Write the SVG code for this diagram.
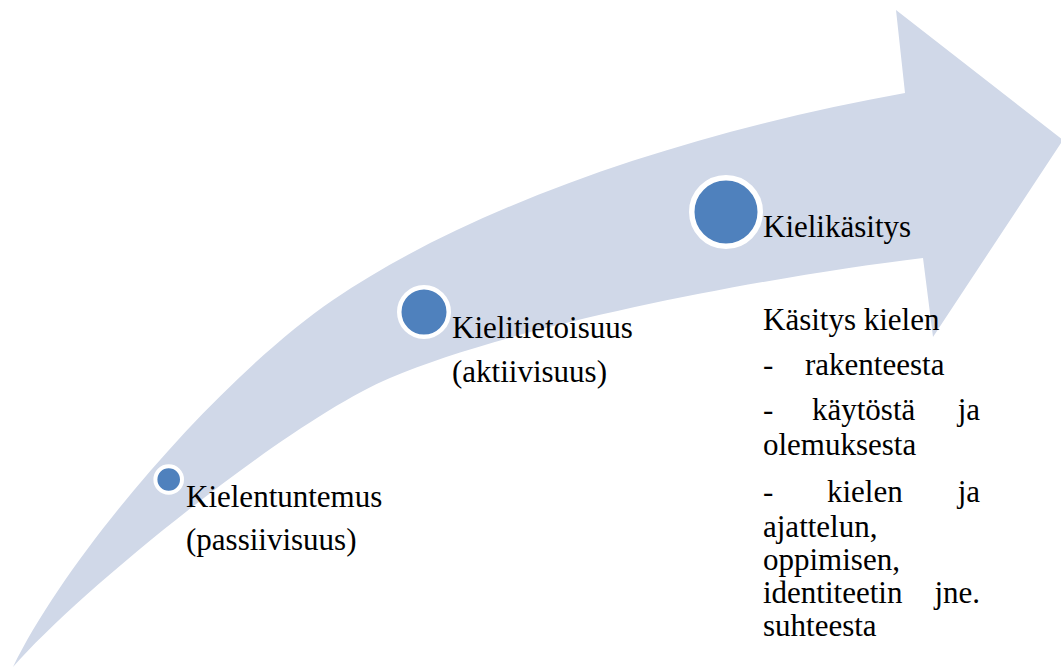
<svg xmlns="http://www.w3.org/2000/svg" width="1061" height="668" viewBox="0 0 1061 668">
<style>
.dot{fill:#4F81BD;stroke:#fff}
</style>
<rect width="1061" height="668" fill="#fff"/>
<g id="arrow">
<path d="M13,667 C70,550 223,375 333,300 C480,200 700,130 905,93 L896,10 L1063,140 L933,337 L923,258 C773,276 520,323 390,378 C290,420 80,590 13,667 Z" fill="#D0D8E8"/>
</g>
<g font-size="31" fill="#000">
<g id="node1">
<circle class="dot" cx="168.7" cy="479.5" r="13.3" stroke-width="4"/>
<text font-family="Liberation Serif, DejaVu Serif, serif" x="186" y="507">Kielentuntemus</text>
<text font-family="Liberation Serif, DejaVu Serif, serif" x="186" y="550">(passiivisuus)</text>
</g>
<g id="node2">
<circle class="dot" cx="424" cy="312" r="24.75" stroke-width="4.5"/>
<text font-family="Liberation Serif, DejaVu Serif, serif" x="452" y="338">Kielitietoisuus</text>
<text font-family="Liberation Serif, DejaVu Serif, serif" x="452" y="382">(aktiivisuus)</text>
</g>
<g id="node3">
<circle class="dot" cx="726" cy="212" r="34.25" stroke-width="5.5"/>
<text font-family="Liberation Serif, DejaVu Serif, serif" x="763" y="237">Kielikäsitys</text>
</g>
<g id="desc" font-family="Liberation Serif, DejaVu Serif, serif">
<text x="763" y="330">Käsitys kielen</text>
<text x="763" y="375">-</text>
<text x="805" y="375">rakenteesta</text>
<text x="763" y="420">-</text>
<text x="812" y="420">käytöstä</text>
<text x="980" y="420" text-anchor="end">ja</text>
<text x="763" y="455">olemuksesta</text>
<text x="763" y="502">-</text>
<text x="827" y="502">kielen</text>
<text x="980" y="502" text-anchor="end">ja</text>
<text x="763" y="537">ajattelun,</text>
<text x="763" y="570">oppimisen,</text>
<text x="763" y="603">identiteetin</text>
<text x="980" y="603" text-anchor="end">jne.</text>
<text x="763" y="636">suhteesta</text>
</g>
</g>
</svg>
